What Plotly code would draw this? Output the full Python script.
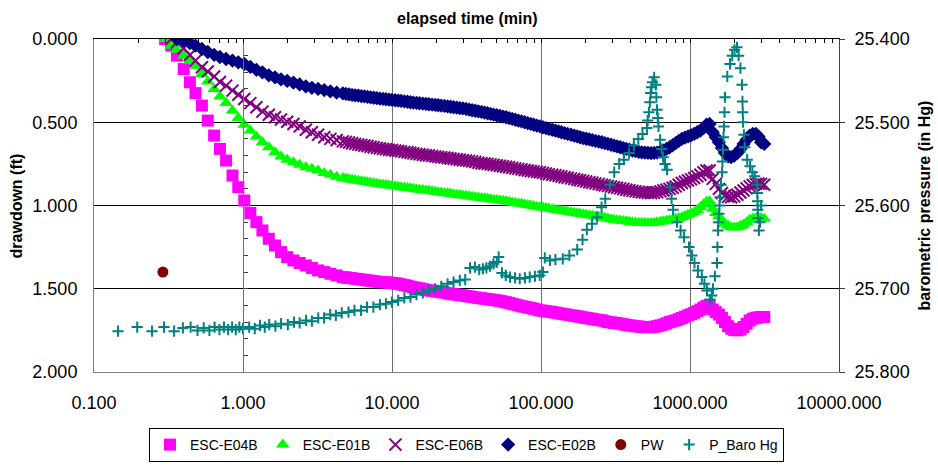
import plotly.graph_objects as go

# ---------------- data ----------------
t_dd = [0.30, 0.33, 0.36, 0.40, 0.44, 0.48, 0.53, 0.58, 0.64, 0.70,
        0.77, 0.85, 0.93, 1.02, 1.12, 1.23, 1.35, 1.49, 1.64, 1.80,
        1.98, 2.18, 2.40, 2.64, 2.90, 3.19, 3.51, 3.86, 4.25, 4.68,
        4.91, 5.15, 5.40, 5.66, 5.94, 6.23, 6.53, 6.85, 7.19, 7.54,
        7.91, 8.29, 8.70, 9.12, 9.55, 10.0, 10.5, 11.0, 11.5, 12.1,
        12.7, 13.3, 13.9, 14.6, 15.3, 16.1, 16.9, 17.7, 18.6, 19.5,
        20.4, 21.4, 22.5, 23.6, 24.7, 25.9, 27.2, 28.5, 29.9, 31.4,
        32.9, 34.5, 36.2, 38.0, 39.9, 41.8, 43.8, 45.9, 48.1, 50.5,
        53.0, 55.6, 58.3, 61.1, 64.1, 67.2, 70.5, 74.0, 77.6, 81.4,
        85.4, 89.5, 93.8, 98.4, 103, 108, 113, 119, 125, 131,
        137, 144, 151, 159, 167, 175, 183, 192, 201, 211,
        221, 232, 244, 256, 268, 281, 295, 309, 324, 340,
        357, 374, 392, 411, 431, 453, 475, 498, 522, 548,
        574, 602, 632, 663, 695, 729, 765, 802, 841, 882,
        925, 970, 1017, 1067, 1119, 1174, 1231, 1291, 1354, 1420,
        1489, 1562, 1638, 1718, 1802, 1890, 1982, 2079, 2181, 2287,
        2399, 2516, 2638, 2767, 2881, 3000, 3150]

esc_e04b = [0.0, 0.04, 0.10, 0.18, 0.26, 0.325, 0.40, 0.49, 0.58, 0.66,
            0.73, 0.82, 0.89, 0.97, 1.045, 1.10, 1.15, 1.20, 1.24, 1.28,
            1.31, 1.33, 1.345, 1.36, 1.375, 1.39, 1.40, 1.41, 1.42, 1.43,
            1.432, 1.435, 1.437, 1.44, 1.442, 1.445, 1.447, 1.45, 1.452, 1.455,
            1.457, 1.46, 1.461, 1.462, 1.463, 1.465, 1.467, 1.47, 1.474, 1.478,
            1.482, 1.487, 1.491, 1.495, 1.498, 1.502, 1.506, 1.51, 1.512, 1.515,
            1.517, 1.52, 1.523, 1.527, 1.53, 1.533, 1.535, 1.538, 1.54, 1.543,
            1.546, 1.549, 1.552, 1.555, 1.557, 1.56, 1.562, 1.565, 1.567, 1.57,
            1.573, 1.577, 1.581, 1.585, 1.59, 1.595, 1.60, 1.605, 1.608, 1.612,
            1.616, 1.62, 1.625, 1.63, 1.632, 1.635, 1.637, 1.64, 1.643, 1.647,
            1.65, 1.653, 1.656, 1.66, 1.662, 1.665, 1.668, 1.672, 1.675, 1.678,
            1.681, 1.685, 1.687, 1.69, 1.695, 1.70, 1.702, 1.705, 1.707, 1.71,
            1.713, 1.717, 1.72, 1.722, 1.725, 1.727, 1.729, 1.73, 1.731, 1.73,
            1.728, 1.725, 1.72, 1.715, 1.708, 1.70, 1.695, 1.69, 1.683, 1.675,
            1.668, 1.66, 1.653, 1.645, 1.635, 1.625, 1.613, 1.603, 1.60, 1.625,
            1.64, 1.655, 1.675, 1.70, 1.725, 1.74, 1.748, 1.75, 1.745, 1.73,
            1.71, 1.69, 1.68, 1.675, 1.672, 1.67, 1.67]

esc_e01b = [0.0, 0.04, 0.065, 0.10, 0.13, 0.16, 0.21, 0.255, 0.30, 0.345,
            0.385, 0.43, 0.475, 0.515, 0.55, 0.585, 0.62, 0.65, 0.68, 0.705,
            0.725, 0.74, 0.755, 0.77, 0.78, 0.79, 0.805, 0.815, 0.828, 0.835,
            0.838, 0.842, 0.845, 0.848, 0.852, 0.855, 0.857, 0.86, 0.863, 0.866,
            0.869, 0.872, 0.875, 0.877, 0.88, 0.882, 0.885, 0.887, 0.89, 0.892,
            0.895, 0.897, 0.90, 0.902, 0.905, 0.907, 0.91, 0.912, 0.915, 0.917,
            0.92, 0.922, 0.925, 0.927, 0.93, 0.932, 0.935, 0.937, 0.94, 0.942,
            0.945, 0.947, 0.95, 0.952, 0.955, 0.957, 0.96, 0.962, 0.965, 0.967,
            0.97, 0.972, 0.975, 0.978, 0.982, 0.985, 0.988, 0.99, 0.994, 0.997,
            1.0, 1.003, 1.007, 1.01, 1.012, 1.015, 1.018, 1.022, 1.025, 1.028,
            1.032, 1.035, 1.037, 1.04, 1.044, 1.047, 1.05, 1.053, 1.055, 1.058,
            1.062, 1.065, 1.067, 1.07, 1.074, 1.078, 1.082, 1.085, 1.088, 1.09,
            1.093, 1.095, 1.098, 1.10, 1.102, 1.103, 1.104, 1.105, 1.106, 1.105,
            1.103, 1.10, 1.098, 1.095, 1.092, 1.088, 1.084, 1.08, 1.075, 1.07,
            1.063, 1.055, 1.048, 1.04, 1.027, 1.01, 0.993, 0.978, 0.975, 1.02,
            1.045, 1.065, 1.09, 1.11, 1.122, 1.13, 1.132, 1.13, 1.123, 1.115,
            1.10, 1.085, 1.078, 1.075, 1.075, 1.075, 1.08]

esc_e06b = [None, 0.0, 0.02, 0.055, 0.096, 0.13, 0.17, 0.195, 0.225, 0.258,
            0.28, 0.31, 0.335, 0.36, 0.385, 0.41, 0.436, 0.455, 0.47, 0.483,
            0.497, 0.51, 0.525, 0.545, 0.56, 0.575, 0.59, 0.60, 0.607, 0.615,
            0.618, 0.622, 0.626, 0.63, 0.634, 0.637, 0.64, 0.643, 0.647, 0.65,
            0.654, 0.657, 0.66, 0.662, 0.665, 0.667, 0.67, 0.672, 0.675, 0.678,
            0.68, 0.683, 0.687, 0.69, 0.692, 0.695, 0.698, 0.70, 0.702, 0.705,
            0.708, 0.71, 0.712, 0.715, 0.718, 0.72, 0.722, 0.725, 0.728, 0.73,
            0.732, 0.735, 0.739, 0.743, 0.746, 0.748, 0.75, 0.753, 0.756, 0.758,
            0.761, 0.764, 0.767, 0.77, 0.774, 0.777, 0.78, 0.783, 0.787, 0.79,
            0.793, 0.795, 0.798, 0.80, 0.804, 0.808, 0.812, 0.815, 0.818, 0.822,
            0.826, 0.83, 0.833, 0.837, 0.841, 0.845, 0.848, 0.852, 0.856, 0.86,
            0.863, 0.867, 0.871, 0.875, 0.878, 0.882, 0.886, 0.89, 0.893, 0.897,
            0.901, 0.905, 0.908, 0.912, 0.915, 0.918, 0.92, 0.922, 0.924, 0.925,
            0.923, 0.92, 0.915, 0.91, 0.905, 0.90, 0.893, 0.885, 0.875, 0.865,
            0.857, 0.85, 0.843, 0.835, 0.825, 0.815, 0.80, 0.79, 0.79, 0.84,
            0.87, 0.90, 0.925, 0.94, 0.948, 0.95, 0.945, 0.935, 0.922, 0.91,
            0.897, 0.885, 0.877, 0.87, 0.868, 0.87, 0.875]

esc_e02b = [None, None, 0.0, 0.01, 0.024, 0.04, 0.06, 0.078, 0.095, 0.108,
            0.12, 0.13, 0.14, 0.15, 0.168, 0.185, 0.20, 0.218, 0.23, 0.243,
            0.252, 0.262, 0.273, 0.285, 0.293, 0.30, 0.307, 0.315, 0.322, 0.327,
            0.33, 0.333, 0.336, 0.338, 0.34, 0.343, 0.345, 0.348, 0.35, 0.353,
            0.355, 0.358, 0.36, 0.362, 0.364, 0.366, 0.368, 0.37, 0.372, 0.375,
            0.377, 0.38, 0.382, 0.384, 0.386, 0.388, 0.39, 0.392, 0.394, 0.396,
            0.398, 0.40, 0.402, 0.405, 0.407, 0.41, 0.412, 0.415, 0.417, 0.42,
            0.424, 0.428, 0.431, 0.435, 0.438, 0.442, 0.446, 0.45, 0.454, 0.458,
            0.462, 0.466, 0.47, 0.475, 0.48, 0.485, 0.49, 0.495, 0.50, 0.505,
            0.51, 0.515, 0.52, 0.525, 0.53, 0.535, 0.54, 0.545, 0.55, 0.555,
            0.56, 0.565, 0.57, 0.575, 0.58, 0.585, 0.59, 0.595, 0.599, 0.603,
            0.607, 0.612, 0.616, 0.62, 0.625, 0.63, 0.635, 0.64, 0.645, 0.65,
            0.655, 0.66, 0.665, 0.67, 0.674, 0.678, 0.681, 0.683, 0.684, 0.685,
            0.684, 0.682, 0.677, 0.67, 0.66, 0.65, 0.638, 0.625, 0.612, 0.60,
            0.592, 0.585, 0.578, 0.57, 0.56, 0.55, 0.535, 0.515, 0.51, 0.56,
            0.59, 0.62, 0.655, 0.685, 0.705, 0.71, 0.70, 0.685, 0.66, 0.63,
            0.605, 0.58, 0.57, 0.57, 0.585, 0.62, 0.63]

pw_t = [0.29]
pw_dd = [1.40]

t_baro = [0.145, 0.195, 0.245, 0.295, 0.345, 0.395, 0.445, 0.495, 0.545, 0.595,
          0.645, 0.695, 0.745, 0.795, 0.845, 0.895, 0.945, 1.0, 1.1, 1.2,
          1.3, 1.4, 1.5, 1.65, 1.8, 2.0, 2.2, 2.4, 2.65, 2.9,
          3.2, 3.5, 3.85, 4.2, 4.6, 5.1, 5.6, 6.2, 6.8, 7.5,
          8.3, 9.1, 10.0, 11.0, 12.1, 13.3, 14.6, 16.1, 17.7, 19.5,
          21.4, 23.6, 25.9, 28.5, 31.0, 33.4, 36.0, 38.5, 40.8, 43.0,
          45.5, 48.0, 50.5, 52.0, 54.7, 58.0, 62.0, 67.0, 72.0, 78.0,
          84.0, 91.0, 98.0, 103.0, 106.0, 115.0, 125.0, 140.0, 155.0, 175.0,
          190.0, 203.0, 220.0, 238.0, 255.0, 270.0, 290.0, 310.0, 335.0, 360.0,
          390.0, 420.0, 450.0, 480.0, 514.0, 520.0, 530.0, 538.0, 545.0, 552.0,
          560.0, 575.0, 590.0, 595.0, 601.0, 608.0, 615.0, 630.0, 645.0, 660.0,
          680.0, 702.0, 735.0, 752.0, 770.0, 818.0, 865.0, 912.0, 985.0, 1030.0,
          1072.0, 1130.0, 1200.0, 1250.0, 1300.0, 1361.0, 1400.0, 1427.0, 1470.0, 1517.0,
          1528.0, 1540.0, 1552.0, 1565.0, 1578.0, 1590.0, 1615.0, 1640.0, 1652.0, 1665.0,
          1678.0, 1690.0, 1704.0, 1718.0, 1780.0, 1855.0, 1920.0, 1990.0, 2066.0, 2120.0,
          2180.0, 2234.0, 2250.0, 2260.0, 2270.0, 2300.0, 2330.0, 2420.0, 2529.0, 2620.0,
          2720.0, 2818.0, 2830.0, 2840.0, 2851.0, 2862.0, 2900.0, 2950.0, 3000.0]

p_baro = [25.751, 25.746, 25.751, 25.746, 25.751, 25.747, 25.746, 25.750, 25.747, 25.750,
          25.746, 25.749, 25.746, 25.749, 25.746, 25.749, 25.746, 25.748, 25.746, 25.748,
          25.744, 25.746, 25.743, 25.745, 25.742, 25.743, 25.740, 25.741, 25.738, 25.739,
          25.735, 25.735, 25.731, 25.732, 25.729, 25.728, 25.726, 25.726, 25.722, 25.722,
          25.719, 25.718, 25.716, 25.714, 25.711, 25.710, 25.707, 25.705, 25.702, 25.700,
          25.697, 25.694, 25.692, 25.690, 25.689, 25.675, 25.674, 25.677, 25.676, 25.675,
          25.673, 25.670, 25.668, 25.662, 25.681, 25.684, 25.686, 25.687, 25.688, 25.687,
          25.686, 25.685, 25.684, 25.680, 25.663, 25.666, 25.665, 25.664, 25.660, 25.653,
          25.641, 25.629, 25.622, 25.614, 25.602, 25.592, 25.575, 25.560, 25.550, 25.545,
          25.537, 25.528, 25.520, 25.514, 25.507, 25.498, 25.488, 25.476, 25.465, 25.458,
          25.452, 25.446, 25.455, 25.470, 25.485, 25.495, 25.505, 25.521, 25.532, 25.542,
          25.550, 25.557, 25.578, 25.592, 25.605, 25.620, 25.630, 25.638, 25.650, 25.660,
          25.669, 25.678, 25.686, 25.694, 25.702, 25.713, 25.708, 25.700, 25.685, 25.669,
          25.650, 25.630, 25.620, 25.610, 25.600, 25.590, 25.575, 25.560, 25.547, 25.533,
          25.518, 25.505, 25.488, 25.470, 25.445, 25.430, 25.420, 25.413, 25.410, 25.420,
          25.435, 25.455, 25.475, 25.488, 25.500, 25.515, 25.530, 25.545, 25.553, 25.560,
          25.565, 25.575, 25.585, 25.595, 25.605, 25.615, 25.630, 25.620, 25.600]

x_tickvals = [0.1, 1, 10, 100, 1000, 10000]
x_ticktext = ["0.100", "1.000", "10.000", "100.000", "1000.000", "10000.000"]
y_tickvals = [0.0, 0.5, 1.0, 1.5, 2.0]
y2_tickvals = [25.4, 25.5, 25.6, 25.7, 25.8]

FONT = "Liberation Sans, Arial, sans-serif"

fig = go.Figure()

fig.add_trace(go.Scatter(x=t_dd, y=esc_e04b, mode="markers", name="ESC-E04B",
                         marker=dict(symbol="square", size=12, color="#FF00FF")))
fig.add_trace(go.Scatter(x=t_dd, y=esc_e01b, mode="markers", name="ESC-E01B",
                         marker=dict(symbol="triangle-up", size=12, color="#00FF00")))
fig.add_trace(go.Scatter(x=t_dd, y=esc_e06b, mode="markers", name="ESC-E06B",
                         marker=dict(symbol="x-thin", size=12, color="#800080",
                                     line=dict(width=2, color="#800080"))))
fig.add_trace(go.Scatter(x=t_dd, y=esc_e02b, mode="markers", name="ESC-E02B",
                         marker=dict(symbol="diamond", size=11, color="#000080")))
fig.add_trace(go.Scatter(x=pw_t, y=pw_dd, mode="markers", name="PW", xaxis="x2",
                         marker=dict(symbol="circle", size=11, color="#800000")))
fig.add_trace(go.Scatter(x=t_baro, y=p_baro, mode="markers", name="P_Baro Hg", yaxis="y2",
                         marker=dict(symbol="cross-thin", size=8, color="#008080",
                                     line=dict(width=2, color="#008080"))))
# carrier for the inner y tick axis at x = 1
fig.add_trace(go.Scatter(x=[None], y=[None], yaxis="y3", showlegend=False,
                         hoverinfo="skip", mode="markers"))

minor_x = [m * 10 ** e for e in range(-1, 4) for m in range(1, 10)] + [10000]

fig.update_layout(
    width=938, height=466,
    margin=dict(l=94, r=99, t=39, b=94, autoexpand=False),
    plot_bgcolor="white", paper_bgcolor="white",
    font=dict(family=FONT, color="black", size=18),
    legend=dict(orientation="h", x=0.5, xanchor="center",
                yref="container", y=0.0815, yanchor="top",
                bordercolor="black", borderwidth=1, font=dict(size=14, family=FONT),
                itemwidth=30, tracegroupgap=0, bgcolor="white"),
    xaxis=dict(type="log", range=[-1, 4], tickvals=x_tickvals, ticktext=x_ticktext,
               showgrid=True, gridcolor="#707070", gridwidth=1,
               showline=True, linecolor="#808080", linewidth=1, ticks="",
               zeroline=False, ticklabelstandoff=14, tickfont=dict(size=18)),
    xaxis2=dict(type="log", range=[-1, 4], overlaying="x", side="top", anchor="y",
                showline=True, linecolor="black", linewidth=1,
                tickvals=minor_x, ticks="inside", ticklen=4, tickcolor="black",
                showticklabels=False, showgrid=False, zeroline=False),
    yaxis=dict(range=[2, 0], tickvals=y_tickvals, tickformat=".3f",
               showgrid=True, gridcolor="black", gridwidth=1,
               showline=True, linecolor="#808080", linewidth=1, ticks="",
               zeroline=False, ticklabelstandoff=12, tickfont=dict(size=18)),
    yaxis2=dict(range=[25.8, 25.4], tickvals=y2_tickvals, tickformat=".3f",
                overlaying="y", side="right", anchor="x",
                showgrid=False, zeroline=False,
                showline=True, linecolor="#404040", linewidth=1,
                ticks="outside", ticklen=5, tickcolor="#404040",
                ticklabelstandoff=6, tickfont=dict(size=18)),
    yaxis3=dict(range=[2, 0], dtick=0.1, overlaying="y", anchor="free", position=0.2,
                side="left", showticklabels=False, showgrid=False, zeroline=False,
                showline=True, linecolor="#707070", linewidth=1,
                ticks="inside", ticklen=4, tickcolor="#404040"),
    annotations=[
        dict(text="<b>elapsed time (min)</b>", xref="paper", yref="paper",
             x=0.5, y=1.063, xanchor="center", yanchor="middle", showarrow=False,
             font=dict(size=16, family=FONT)),
        dict(text="<b>drawdown (ft)</b>", xref="paper", yref="paper",
             x=-0.1034, y=0.5, xanchor="center", yanchor="middle", showarrow=False,
             textangle=-90, font=dict(size=16, family=FONT)),
        dict(text="<b>barometric pressure (in Hg)</b>", xref="paper", yref="paper",
             x=1.1154, y=0.5, xanchor="center", yanchor="middle", showarrow=False,
             textangle=-90, font=dict(size=16, family=FONT)),
    ],
)

fig.write_html("out.html", config={"displayModeBar": False},
               post_script="document.body.style.margin='0px';")
